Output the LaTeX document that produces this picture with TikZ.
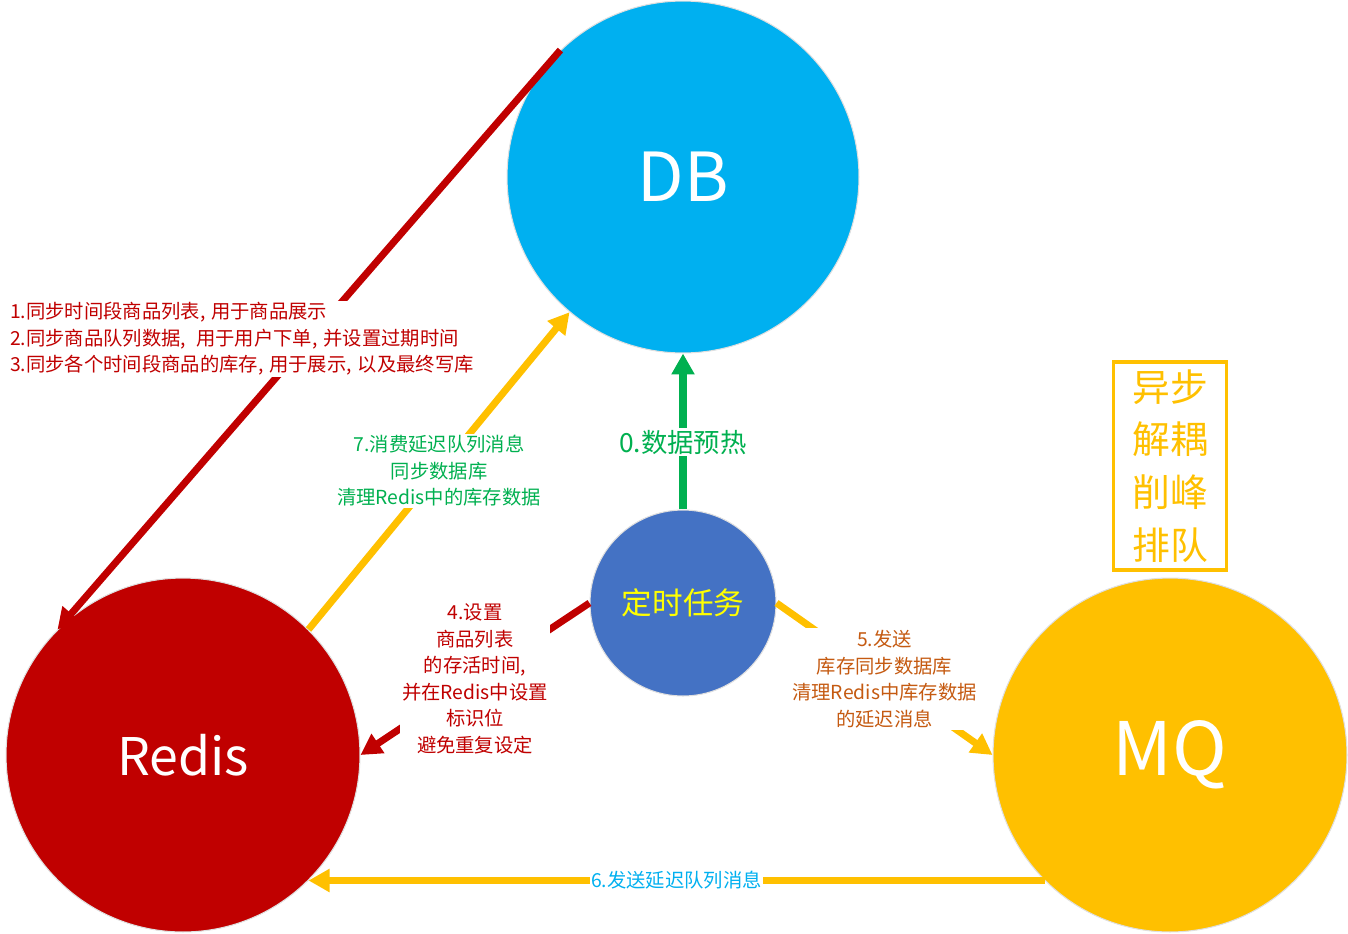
\documentclass[tikz,border=0pt]{standalone}
\usepackage{fontspec}
\usepackage{xcolor}
\usepackage{tikz}
\usetikzlibrary{arrows.meta,positioning,calc}
\newfontfamily\cjk{Noto Sans CJK SC}
\definecolor{DBBlue}{HTML}{00B0F0}
\definecolor{RedisRed}{HTML}{C00000}
\definecolor{MQYellow}{HTML}{FFC000}
\definecolor{TaskBlue}{HTML}{4472C4}
\definecolor{WarmGreen}{HTML}{00B050}
\definecolor{SendOrange}{HTML}{C55A11}
\definecolor{TaskText}{HTML}{FFFF00}
\newcommand{\wsep}{,\hspace{0.3em}}

\begin{document}
\begin{tikzpicture}[
    x=0.02cm, y=-0.02cm,
    every node/.style={font=\cjk},
    store/.style={circle, draw=gray!25, line width=0.6pt, inner sep=0pt, text=white},
    link/.style={line width=4pt},
    tip/.style={-{Triangle[length=0.42cm, width=0.44cm]}},
    note/.style={fill=white, inner sep=1pt, align=center,
      font=\cjk\fontsize{11}{15.1}\selectfont}
  ]
    \useasboundingbox (0,0) rectangle (1348,933);

    % stores and the timer
    \node[store, fill=DBBlue, minimum size=7.04cm,
      font=\cjk\fontsize{38.5}{40}\selectfont] (db) at (683,177) {DB};
    \node[store, fill=RedisRed, minimum size=7.08cm,
      font=\cjk\fontsize{29.5}{30}\selectfont] (redis) at (183,755) {Redis};
    \node[store, fill=MQYellow, minimum size=7.08cm,
      font=\cjk\fontsize{42}{42}\selectfont] (mq) at (1170,755) {MQ};
    \node[store, fill=TaskBlue, minimum size=3.72cm, text=TaskText,
      font=\cjk\fontsize{17.4}{18}\selectfont] (task) at (683,603) {定时任务};

    \node[draw=MQYellow, line width=2.2pt, text=MQYellow, align=center,
      minimum width=2.26cm, minimum height=4.16cm, inner sep=0pt,
      font=\cjk\fontsize{21.5}{30}\selectfont] (gains) at (1170,466)
      {异步\\解耦\\削峰\\排队};

    % flows
    \draw[link, RedisRed, tip] (db.134) -- (redis.135);
    \node[note, text=RedisRed, align=left, anchor=west] (sync) at (8,339)
      {1.同步时间段商品列表\wsep 用于商品展示\\2.同步商品队列数据\wsep\ 用于用户下单\wsep 并设置过期时间\\3.同步各个时间段商品的库存\wsep 用于展示\wsep 以及最终写库};

    \draw[link, MQYellow, tip] (redis.45) --
      node[note, text=WarmGreen] (consume) {7.消费延迟队列消息\\同步数据库\\清理Redis中的库存数据} (db.230);

    \draw[link, WarmGreen, tip] (task.north) --
      node[pos=0.43, note, text=WarmGreen, font=\cjk\fontsize{15}{16}\selectfont] (warm) {0.数据预热} (db.south);

    \draw[link, RedisRed, tip] (task.west) --
      node[note, text=RedisRed] (expire) {4.设置\\商品列表\\的存活时间,\\并在Redis中设置\\标识位\\避免重复设定} (redis.east);

    \draw[link, MQYellow, tip] (task.east) --
      node[note, text=SendOrange] (delay) {5.发送\\库存同步数据库\\清理Redis中库存数据\\的延迟消息} (mq.west);

    \draw[link, MQYellow, tip] (mq.225) --
      node[note, text=DBBlue, inner sep=0.5pt] (resend) {6.发送延迟队列消息} (redis.315);
  \end{tikzpicture}
\end{document}
